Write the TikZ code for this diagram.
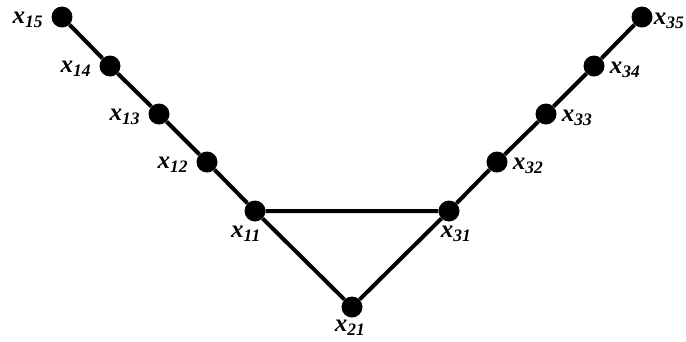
\documentclass[tikz,border=0pt]{standalone}
\usepackage{fontspec}
\setmainfont{Liberation Serif}
\usetikzlibrary{positioning}
\tikzset{
  vtx/.style={circle,fill=black,inner sep=0pt,minimum size=21pt},
  edge/.style={line width=4pt,black},
  lbl/.style={font=\fontsize{25}{28}\selectfont\bfseries\itshape,inner sep=1pt},
}
\newcommand{\xlab}[1]{x\textsubscript{#1}}

\begin{document}
\begin{tikzpicture}[x=1pt,y=-1pt]
\useasboundingbox (0,0) rectangle (686,341);
% vertices
\foreach \n/\px/\py in {15/62/17,14/110/66,13/159/114,12/207/162,11/255/211,
                        21/352/307,
                        31/449/211,32/497/162,33/546/114,34/594/66,35/642/17}{
  \node[vtx] (v\n) at (\px,\py) {};
}
% edges
\draw[edge] (v15) -- (v14) -- (v13) -- (v12) -- (v11) -- (v21) -- (v31) -- (v11);
\draw[edge] (v31) -- (v32) -- (v33) -- (v34) -- (v35);
% labels
\foreach \n in {15,14,13,12}{
  \node[lbl,left=7pt of v\n,yshift=-3pt] (l\n) {\xlab{\n}};
}
\foreach \n in {32,33,34}{
  \node[lbl,right=4pt of v\n,yshift=-4pt] (l\n) {\xlab{\n}};
}
\node[lbl,right=1pt of v35,yshift=-4pt,inner sep=0pt] (l35) {\xlab{35}};
\node[lbl,below=3pt of v11,xshift=-9pt] (l11) {\xlab{11}};
\node[lbl,below=3pt of v31,xshift=7pt] (l31) {\xlab{31}};
\node[lbl,below=1pt of v21,xshift=-2pt] (l21) {\xlab{21}};
\end{tikzpicture}
\end{document}
